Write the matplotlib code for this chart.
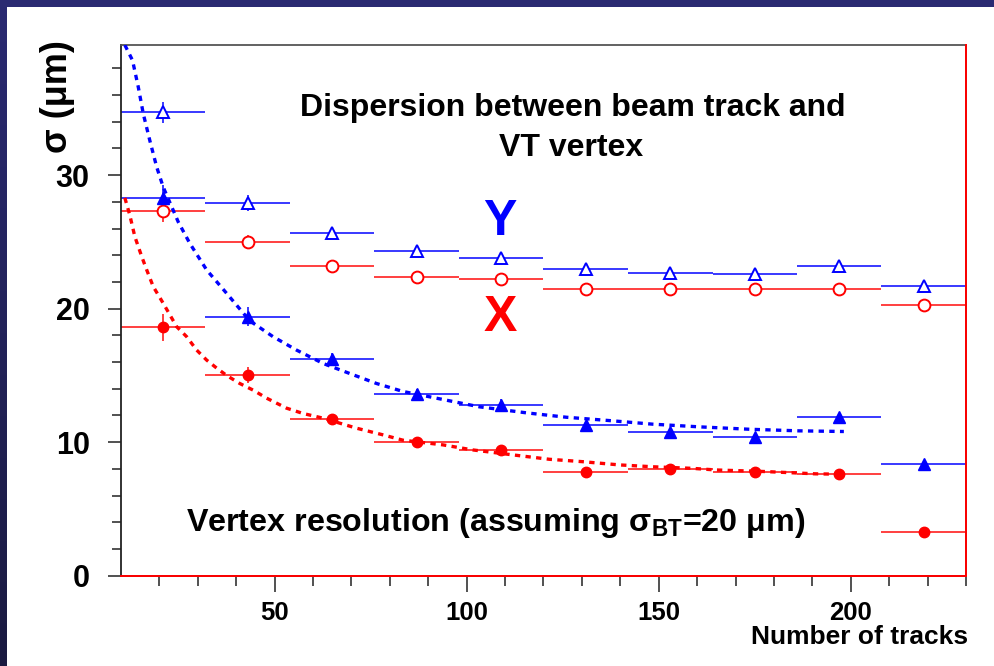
import numpy as np
import matplotlib
matplotlib.use("Agg")
import matplotlib.pyplot as plt
from matplotlib.patches import Rectangle
from matplotlib.colors import LinearSegmentedColormap

plt.rcParams['font.family'] = ['Liberation Sans', 'DejaVu Sans']
plt.rcParams['font.weight'] = 'bold'
plt.rcParams['mathtext.fontset'] = 'custom'
plt.rcParams['mathtext.bf'] = 'Liberation Sans:bold'
plt.rcParams['mathtext.rm'] = 'Liberation Sans:bold'

# ---- data ----
bin_centers = [21, 43, 65, 87, 109, 131, 153, 175, 197, 219]
bin_halfwidth = 11

y_dispersion = [34.7, 27.9, 25.7, 24.3, 23.8, 23.0, 22.7, 22.6, 23.2, 21.7]
y_dispersion_err = [0.8, 0.6, 0.4, 0.4, 0.4, 0.3, 0.3, 0.3, 0.3, 0.3]
x_dispersion = [27.3, 25.0, 23.2, 22.4, 22.2, 21.5, 21.5, 21.5, 21.5, 20.3]
x_dispersion_err = [0.8, 0.5, 0.4, 0.3, 0.3, 0.3, 0.3, 0.3, 0.3, 0.3]

y_resolution = [28.3, 19.4, 16.2, 13.6, 12.8, 11.3, 10.8, 10.4, 11.9, 8.4]
y_resolution_err = [1.0, 0.7, 0.5, 0.4, 0.4, 0.3, 0.3, 0.3, 0.3, 0.3]
x_resolution = [18.6, 15.0, 11.7, 10.0, 9.4, 7.8, 8.0, 7.8, 7.6, 3.3]
x_resolution_err = [1.0, 0.6, 0.4, 0.3, 0.3, 0.3, 0.3, 0.3, 0.3, 0.3]

# fitted curves
fit_y_x = [11.0, 13.0, 14.5, 15.8, 17.5, 19.3, 21.0, 24.9, 27.9, 32.3, 37.5, 43.5,
           49.6, 55.7, 62.6, 69.5, 76.5, 83.4, 93.8, 103.3, 115.5, 125.9, 138.0,
           148.4, 160.5, 173.5, 186.5, 198.2]
fit_y_val = [39.75, 38.6, 36.6, 34.6, 32.6, 30.6, 29.1, 26.5, 24.9, 22.9, 21.15, 19.1,
             17.9, 16.9, 15.9, 15.15, 14.4, 13.8, 13.2, 12.65, 12.2, 11.87, 11.6,
             11.35, 11.15, 10.97, 10.85, 10.8]
fit_x_x = [11.0, 12.3, 13.6, 15.4, 16.7, 18.4, 21.0, 24.5, 27.1, 29.7, 32.3, 34.9,
           37.5, 40.9, 44.4, 47.9, 53.1, 57.4, 62.6, 71.3, 78.2, 83.4, 93.8, 101.6,
           112.0, 121.5, 130.2, 139.7, 148.4, 158.8, 164.9, 177.8, 190.8, 197.7]
fit_x_val = [28.3, 27.0, 25.4, 23.9, 22.9, 21.65, 20.4, 18.65, 17.9, 16.9, 16.15, 15.55,
             15.0, 14.4, 13.9, 13.3, 12.55, 12.15, 11.8, 11.05, 10.55, 10.15, 9.8, 9.42,
             9.05, 8.72, 8.54, 8.3, 8.16, 8.04, 7.92, 7.8, 7.63, 7.6]

x_ticks = [50, 100, 150, 200]
y_ticks = [0, 10, 20, 30]

BLUE = '#0000ff'
RED = '#ff0000'
BLUE_L = '#2a2aff'
RED_L = '#ff3030'

fig = plt.figure(figsize=(9.95, 6.66), dpi=100)
fig.patch.set_facecolor('white')

# navy border (top strip + left gradient strip)
W, H = 995, 666
fig.patches.append(Rectangle((0, 1 - 6.5 / H), 1, 6.5 / H, transform=fig.transFigure,
                             facecolor='#2a2a72', edgecolor='none', zorder=0))
bax = fig.add_axes([0, 0, 6.5 / W, 1])
grad = np.linspace(0, 1, 256).reshape(-1, 1)
cm = LinearSegmentedColormap.from_list('nv', ['#2a2a72', '#1a1a40'])
bax.imshow(grad, aspect='auto', cmap=cm, extent=[0, 1, 0, 1], origin='upper')
bax.axis('off')

ax = fig.add_axes([121 / W, 1 - 575.7 / H, (966 - 121) / W, (575.7 - 45) / H])
ax.set_xlim(10, 230)
ax.set_ylim(0, 39.75)

ekw = dict(linestyle='none', elinewidth=1.3, capsize=0)

ax.errorbar(bin_centers, y_dispersion, xerr=bin_halfwidth, yerr=y_dispersion_err,
            marker='^', ms=9, mfc='white', mec=BLUE, mew=1.4, ecolor=BLUE_L, **ekw)
ax.errorbar(bin_centers, x_dispersion, xerr=bin_halfwidth, yerr=x_dispersion_err,
            marker='o', ms=8.5, mfc='white', mec=RED, mew=1.4, ecolor=RED_L, **ekw)
ax.errorbar(bin_centers, y_resolution, xerr=bin_halfwidth, yerr=y_resolution_err,
            marker='^', ms=9, mfc=BLUE, mec=BLUE, mew=1, ecolor=BLUE_L, **ekw)
ax.errorbar(bin_centers, x_resolution, xerr=bin_halfwidth, yerr=x_resolution_err,
            marker='o', ms=7.5, mfc=RED, mec=RED, mew=1, ecolor=RED_L, **ekw)

ax.plot(fit_y_x, fit_y_val, color=BLUE, lw=2.4, linestyle=(0, (1.6, 1.6)), zorder=4)
ax.plot(fit_x_x, fit_x_val, color=RED, lw=2.4, linestyle=(0, (1.6, 1.6)), zorder=4)

# frame
for s in ['left', 'bottom', 'top', 'right']:
    ax.spines[s].set_color('#222222')
    ax.spines[s].set_linewidth(1.3)
ax.spines['top'].set_color('#555555')
ax.axhline(0, color=RED, lw=1.4, zorder=5, clip_on=False)
ax.axvline(230, color=RED, lw=1.4, zorder=5, clip_on=False)

ax.set_xticks(x_ticks)
ax.set_xticks(np.arange(20, 231, 10), minor=True)
ax.set_yticks(y_ticks)
ax.set_yticks(np.arange(2, 40, 2), minor=True)
ax.tick_params(axis='x', which='major', direction='out', length=11.5, width=1.2,
               color='#333333', labelsize=18.5, pad=7, top=False)
ax.tick_params(axis='x', which='minor', direction='out', length=7, width=1.2,
               color='#333333', top=False)
ax.tick_params(axis='y', which='major', direction='out', length=9.5, width=1.2,
               color='#333333', labelsize=22, pad=13, right=False)
ax.tick_params(axis='y', which='minor', direction='out', length=6.5, width=1.2,
               color='#333333', right=False)
for lab in ax.get_xticklabels() + ax.get_yticklabels():
    lab.set_fontweight('bold')

# texts
fig.text(58 / W, 1 - 97 / H, 'σ (μm)', rotation=90, ha='center', va='center',
         fontsize=26, fontweight='bold')
fig.text(968 / W, 1 - 637 / H, 'Number of tracks', ha='right', va='center',
         fontsize=19, fontweight='bold')
fig.text(573 / W, 1 - 108 / H, 'Dispersion between beam track and', ha='center',
         va='center', fontsize=23, fontweight='bold')
fig.text(571 / W, 1 - 148 / H, 'VT vertex', ha='center', va='center',
         fontsize=23, fontweight='bold')
fig.text(500 / W, 1 - 222 / H, 'Y', ha='center', va='center', fontsize=36,
         fontweight='bold', color=BLUE)
fig.text(500 / W, 1 - 318 / H, 'X', ha='center', va='center', fontsize=36,
         fontweight='bold', color=RED)
fig.text(186 / W, 1 - 523 / H, r'Vertex resolution (assuming σ$_{\mathbf{BT}}$=20 μm)',
         ha='left', va='center', fontsize=23.2, fontweight='bold')

fig.savefig('out.png', dpi=100)
